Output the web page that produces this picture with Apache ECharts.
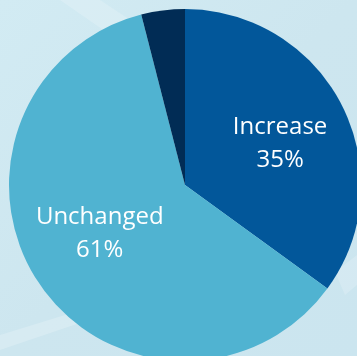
<!DOCTYPE html>
<html><head><meta charset="utf-8">
<script src="https://cdn.jsdelivr.net/npm/echarts@6/dist/echarts.min.js"></script>
<style>html,body{margin:0;padding:0;background:#cde7f0}#c{width:357px;height:356px}</style>
</head><body><div id="c"></div>
<script>
var categories = ['Increase', 'Unchanged', 'Decrease'];
var values = [35, 61, 4];
var colors = ['#02579a', '#50b3d1', '#012c55'];
var showLabel = [true, true, false];
var labelOffsets = [[14, 0], [-10, -2], [0, 0]];

var chart = echarts.init(document.getElementById('c'), null, {renderer: 'canvas'});
chart.setOption({
  animation: false,
  backgroundColor: {
    type: 'linear', x: 0, y: 0, x2: 1, y2: 1,
    colorStops: [{offset: 0, color: '#d2ebf3'}, {offset: 0.5, color: '#cde6ef'}, {offset: 1, color: '#cbe5ef'}]
  },
  graphic: [
    {type: 'polygon', z: -1, shape: {points: [[60, 0], [100, 0], [160, 40], [125, 45]]},
     style: {fill: 'rgba(255,255,255,0.18)'}},
    {type: 'polygon', z: -1, shape: {points: [[0, 335], [120, 298], [130, 306], [0, 350]]},
     style: {fill: 'rgba(255,255,255,0.2)'}},
    {type: 'polygon', z: -1, shape: {points: [[335, 272], [357, 255], [357, 285], [345, 295]]},
     style: {fill: 'rgba(255,255,255,0.18)'}}
  ],
  series: [{
    type: 'pie',
    center: [185, 185],
    radius: [0, 176],
    startAngle: 90,
    clockwise: true,
    avoidLabelOverlap: false,
    labelLine: {show: false},
    itemStyle: {borderWidth: 0},
    emphasis: {disabled: true},
    data: categories.map(function (c, i) {
      return {
        name: c, value: values[i],
        itemStyle: {color: colors[i]},
        label: {
          show: showLabel[i], position: 'inside', offset: labelOffsets[i],
          formatter: '{b}\n{d}%', color: '#ffffff',
          fontFamily: 'Open Sans', fontSize: 24, lineHeight: 33
        }
      };
    })
  }]
});
</script></body></html>
